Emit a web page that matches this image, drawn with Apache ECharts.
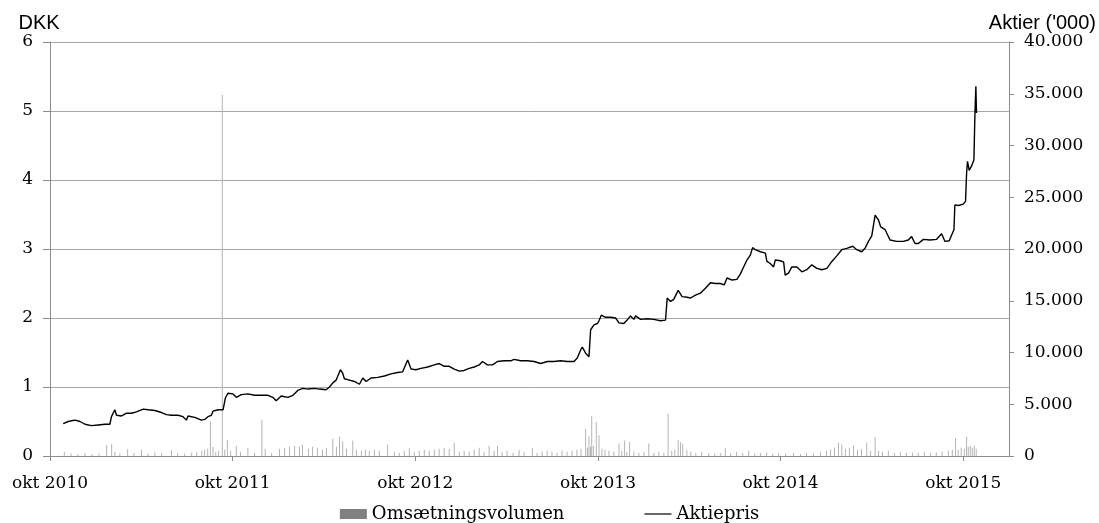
<!DOCTYPE html>
<html>
<head>
<meta charset="utf-8">
<script src="https://cdn.jsdelivr.net/npm/echarts@6.0.0/dist/echarts.min.js"></script>
<style>
html,body{margin:0;padding:0;background:#fff;}
#chart{width:1099px;height:523px;}
</style>
</head>
<body>
<div id="chart"></div>
<script>
// x positions are months since okt 2010
const tickLabels = ['okt 2010','okt 2011','okt 2012','okt 2013','okt 2014','okt 2015'];
const tickMonths = [0,12,24,36,48,60];
const leftTicks = [0,1,2,3,4,5,6];
const rightTicks = [0,5000,10000,15000,20000,25000,30000,35000,40000];

const priceMonths = [0.87,1.20,1.42,1.64,1.97,2.30,2.73,3.17,3.61,3.93,4.04,4.26,4.37,4.70,5.03,5.36,5.68,6.12,6.45,6.89,7.32,7.65,7.98,8.42,8.74,8.96,9.07,9.51,9.95,10.16,10.38,10.60,10.71,11.04,11.37,11.52,11.69,12.02,12.24,12.57,13.00,13.44,13.88,14.32,14.64,14.86,15.19,15.63,15.96,16.28,16.61,16.94,17.38,17.70,18.14,18.36,18.58,18.80,19.08,19.23,19.34,19.67,20.00,20.33,20.55,20.77,21.09,21.53,21.97,22.40,22.84,23.17,23.50,23.72,24.04,24.37,24.81,25.25,25.57,25.90,26.23,26.56,26.89,27.21,27.54,27.87,28.20,28.41,28.74,29.07,29.40,29.84,30.27,30.49,30.93,31.37,31.80,32.24,32.68,33.11,33.55,33.99,34.43,34.64,34.87,34.97,35.19,35.41,35.52,35.74,35.96,36.07,36.22,36.50,36.83,37.16,37.38,37.70,37.92,38.14,38.36,38.47,38.80,39.23,39.67,40.11,40.44,40.55,40.77,40.98,41.27,41.53,41.86,42.08,42.41,42.73,43.06,43.39,43.72,44.04,44.30,44.48,44.81,45.13,45.36,45.57,45.79,46.01,46.16,46.34,46.67,47.00,47.10,47.32,47.54,47.65,47.98,48.20,48.30,48.52,48.74,49.07,49.40,49.72,50.05,50.38,50.71,51.04,51.37,51.69,52.02,52.35,52.74,53.00,53.33,53.55,53.77,53.99,54.21,54.43,54.58,54.87,55.19,55.63,56.07,56.39,56.61,56.83,57.05,57.38,57.82,58.25,58.58,58.80,59.08,59.23,59.39,59.45,59.67,60.00,60.15,60.22,60.28,60.39,60.54,60.70,60.77,60.83,60.87];
const priceValues = [0.47,0.50,0.51,0.52,0.50,0.46,0.44,0.45,0.46,0.46,0.57,0.67,0.59,0.58,0.62,0.62,0.64,0.68,0.67,0.66,0.63,0.60,0.59,0.59,0.57,0.52,0.58,0.56,0.52,0.53,0.57,0.59,0.65,0.67,0.67,0.84,0.91,0.90,0.85,0.89,0.90,0.88,0.88,0.88,0.85,0.80,0.87,0.85,0.88,0.95,0.98,0.97,0.98,0.97,0.96,1.00,1.06,1.10,1.25,1.20,1.12,1.10,1.08,1.04,1.13,1.08,1.13,1.14,1.16,1.19,1.21,1.22,1.39,1.26,1.25,1.27,1.29,1.32,1.34,1.30,1.30,1.26,1.23,1.24,1.27,1.29,1.32,1.37,1.32,1.32,1.37,1.38,1.38,1.40,1.38,1.38,1.37,1.34,1.37,1.37,1.38,1.37,1.37,1.42,1.54,1.58,1.49,1.44,1.83,1.90,1.92,1.96,2.04,2.01,2.01,2.00,1.93,1.92,1.97,2.03,1.98,2.03,1.98,1.99,1.98,1.96,1.97,2.29,2.24,2.27,2.40,2.31,2.30,2.29,2.33,2.36,2.43,2.51,2.50,2.50,2.48,2.58,2.55,2.56,2.64,2.74,2.84,2.91,3.02,2.99,2.96,2.94,2.82,2.79,2.74,2.84,2.83,2.81,2.62,2.65,2.74,2.74,2.67,2.70,2.77,2.72,2.70,2.72,2.82,2.90,2.99,3.01,3.04,2.99,2.96,3.01,3.11,3.19,3.49,3.42,3.32,3.28,3.13,3.11,3.11,3.13,3.18,3.08,3.08,3.14,3.13,3.14,3.22,3.11,3.12,3.20,3.28,3.64,3.63,3.65,3.69,4.10,4.27,4.14,4.20,4.29,4.97,5.36,4.97];

const volMonths = [0.94,1.38,1.84,2.30,2.75,3.21,3.72,4.05,4.26,4.59,5.10,5.51,6.01,6.43,6.89,7.34,7.98,8.39,8.85,9.31,9.64,9.97,10.16,10.36,10.54,10.71,10.89,11.08,11.32,11.48,11.65,11.87,12.24,12.52,13.00,13.44,13.92,14.14,14.56,15.08,15.41,15.74,16.07,16.39,16.59,16.98,17.25,17.57,17.90,18.16,18.58,18.82,19.02,19.23,19.48,19.89,20.13,20.46,20.72,20.98,21.31,21.64,22.18,22.62,22.95,23.28,23.61,23.93,24.26,24.59,24.92,25.25,25.57,25.90,26.23,26.56,26.89,27.21,27.54,27.87,28.20,28.52,28.85,29.18,29.40,29.70,30.03,30.43,30.82,31.15,31.69,32.00,32.33,32.66,32.98,33.31,33.64,33.97,34.30,34.62,34.89,35.19,35.31,35.41,35.51,35.59,35.70,35.89,36.07,36.26,36.46,36.72,37.05,37.38,37.57,37.75,37.90,38.08,38.36,38.69,39.02,39.34,39.67,40.00,40.33,40.61,40.85,41.05,41.27,41.42,41.57,41.84,42.10,42.43,42.82,43.28,43.67,44.07,44.37,44.72,45.11,45.51,45.90,46.30,46.69,47.08,47.48,47.87,48.33,48.85,49.31,49.70,50.16,50.62,51.02,51.28,51.54,51.80,52.02,52.26,52.52,52.79,53.05,53.31,53.66,53.90,54.21,54.43,54.69,55.08,55.48,55.87,56.26,56.66,57.05,57.44,57.84,58.23,58.62,59.02,59.28,59.49,59.67,59.87,60.07,60.22,60.33,60.46,60.59,60.72,60.85];
const volValues = [400,250,200,300,200,250,1060,1160,400,250,650,300,600,250,350,300,550,300,250,350,400,500,600,700,3300,900,400,500,34900,600,1550,500,1000,400,800,300,3500,700,300,700,800,900,1000,900,1100,700,900,800,600,800,1700,900,1860,1400,700,1500,600,500,600,500,600,500,1100,400,300,500,750,400,500,600,500,600,700,800,700,1300,400,500,400,600,800,400,1000,500,1000,400,500,300,600,400,750,300,400,500,400,300,500,400,500,600,700,2600,800,1900,900,3900,1000,3300,2000,700,600,500,400,1200,500,1500,400,1350,400,300,400,1200,300,400,300,4100,500,600,1550,1350,1200,600,400,300,400,300,250,300,750,300,400,300,500,250,300,350,200,300,250,300,200,300,250,400,500,600,800,1300,1100,700,800,1000,600,700,1300,500,1870,500,400,500,300,400,300,350,300,400,300,350,400,500,600,1750,600,800,700,1850,900,1000,800,1000,700];

const priceData = priceMonths.map((m, i) => [m, priceValues[i]]);
const volData = volMonths.map((m, i) => [m, volValues[i]]);

const serif = 'DejaVu Serif';
const chart = echarts.init(document.getElementById('chart'));
chart.setOption({
  animation: false,
  backgroundColor: '#ffffff',
  grid: { left: 50, right: 87, top: 42, bottom: 67, containLabel: false },
  legend: {
    top: 500,
    left: 'center',
    itemWidth: 27,
    itemHeight: 10,
    itemGap: 80,
    textStyle: { fontFamily: serif, fontSize: 18, color: '#000' },
    data: [
      { name: 'Omsætningsvolumen', icon: 'rect', itemStyle: { color: '#808080' } },
      { name: 'Aktiepris', icon: 'path://M0,0 L27,0 L27,1.2 L0,1.2 Z', itemStyle: { color: '#000' } }
    ]
  },
  xAxis: {
    type: 'value',
    min: 0,
    max: 63,
    interval: 12,
    splitLine: { show: false },
    axisLine: { show: true, lineStyle: { color: '#8c8c8c', width: 1 } },
    axisTick: { show: true, length: 5, lineStyle: { color: '#8c8c8c' }, customValues: tickMonths },
    axisLabel: {
      customValues: tickMonths,
      margin: 19,
      fontFamily: serif, fontSize: 17, color: '#000',
      formatter: v => tickLabels[tickMonths.indexOf(v)] || ''
    }
  },
  yAxis: [
    {
      type: 'value',
      min: 0, max: 6, interval: 1,
      position: 'left',
      name: 'DKK',
      nameLocation: 'end',
      nameGap: 9,
      nameTextStyle: { fontFamily: 'Liberation Sans', fontSize: 20, color: '#000', align: 'center', verticalAlign: 'bottom', padding: [0, 22, 0, 0] },
      axisLine: { show: true, lineStyle: { color: '#8c8c8c', width: 1 } },
      axisTick: { show: true, length: 7, lineStyle: { color: '#8c8c8c' } },
      splitLine: { show: true, lineStyle: { color: '#a6a6a6', width: 1 } },
      axisLabel: { margin: 17, fontFamily: serif, fontSize: 17, color: '#000',
        formatter: v => String(leftTicks[leftTicks.indexOf(v)]) }
    },
    {
      type: 'value',
      min: 0, max: 40000, interval: 5000,
      position: 'right',
      name: "Aktier ('000)",
      nameLocation: 'end',
      nameGap: 9,
      nameTextStyle: { fontFamily: 'Liberation Sans', fontSize: 20, color: '#000', align: 'center', verticalAlign: 'bottom', padding: [0, 0, 0, 67] },
      axisLine: { show: true, lineStyle: { color: '#8c8c8c', width: 1 } },
      axisTick: { show: true, length: 5, lineStyle: { color: '#8c8c8c' } },
      splitLine: { show: false },
      axisLabel: { margin: 15, fontFamily: serif, fontSize: 17, color: '#000',
        formatter: v => {
          const t = rightTicks[rightTicks.indexOf(v)];
          return t === 0 ? '0' : (t / 1000) + '.000';
        } }
    }
  ],
  series: [
    {
      name: 'Omsætningsvolumen',
      type: 'bar',
      yAxisIndex: 1,
      barWidth: 1,
      itemStyle: { color: '#b4b4b4' },
      data: volData,
      z: 2
    },
    {
      name: 'Aktiepris',
      type: 'line',
      yAxisIndex: 0,
      showSymbol: false,
      symbol: 'none',
      lineStyle: { color: '#000', width: 1.4 },
      itemStyle: { color: '#000' },
      data: priceData,
      z: 3
    }
  ]
});
</script>
</body>
</html>
